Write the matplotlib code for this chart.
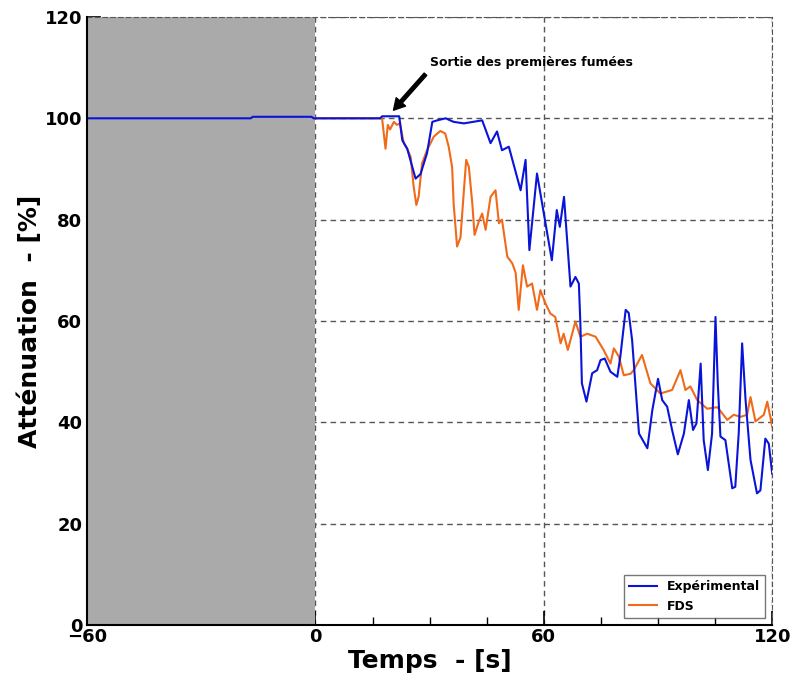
import matplotlib
matplotlib.use("Agg")
import matplotlib.pyplot as plt
from matplotlib.ticker import MultipleLocator

BLUE, ORANGE, SHADE, GRID = "#0a14d8", "#f06a1a", "#aaaaaa", "#555555"

# Expérimental
exp_t = [-60, -17, -16.5, -1, -0.5, 17, 17.5, 22, 22.8, 24.1,
         26.3, 27.6, 29.3, 30.7, 32, 34.2, 36.3, 39, 43.8, 46,
         47.7, 49, 50.8, 53.9, 55.2, 56.2, 58.2, 62.1, 63.4, 64.2,
         65.3, 67, 68.3, 69.2, 69.6, 70, 71.2, 72.7, 74, 74.9,
         76, 77.5, 79.3, 80.1, 81.5, 82.3, 83.2, 85, 87.2, 88.5,
         90, 91.1, 92.4, 93.7, 95.2, 96.8, 98.1, 99.2, 100.1, 101.2,
         102, 103.1, 104.2, 105.1, 105.7, 106.4, 107.7, 109.5, 110.3, 111.2,
         112.1, 113, 114.3, 116, 116.9, 118.2, 119.1, 120]
exp_y = [100, 100, 100.3, 100.3, 100, 100, 100.4, 100.4, 95.7, 94,
         88.1, 89, 93.1, 99.3, 99.6, 100, 99.3, 99, 99.6, 95.1,
         97.4, 93.7, 94.4, 85.8, 91.8, 74, 89.1, 72, 81.9, 78.6,
         84.5, 66.8, 68.7, 67.4, 59.5, 47.7, 44.1, 49.7, 50.3, 52.3,
         52.6, 50, 49, 53, 62.2, 61.6, 56.2, 37.8, 34.9, 42.4,
         48.6, 44.4, 43.1, 38.5, 33.7, 37.8, 44.4, 38.5, 39.8, 51.6,
         36.5, 30.6, 37.8, 60.8, 47.7, 37.2, 36.5, 27, 27.3, 37.8,
         55.6, 44.4, 32.6, 26, 26.6, 36.8, 35.8, 29.9]

# FDS
fds_t = [0, 17.5, 18.4, 19, 19.6, 20.6, 21.4, 22.2, 23.2, 24.1,
         25, 25.8, 26.5, 27.1, 28, 29.3, 31.1, 32.8, 34.1, 35,
         35.9, 36.3, 37.2, 38.1, 39, 39.6, 40.3, 41.2, 41.8, 42.9,
         43.8, 44.7, 46, 47.3, 48.2, 49, 50.4, 51.7, 52.6, 53.4,
         54.5, 55.6, 56.9, 58.2, 59.1, 60.4, 61.7, 63, 64.4, 65.2,
         66.3, 68.3, 69.6, 71.4, 73.6, 75.7, 77.5, 78.4, 79.7, 81,
         82.8, 83.6, 85.8, 88, 90.6, 93.7, 95.9, 97.2, 98.5, 100.3,
         102.9, 105.6, 108.2, 109.9, 111.7, 113.4, 114.3, 115.6, 117.8, 118.7,
         120]
fds_y = [100, 100, 94, 98.7, 97.8, 99.3, 98.7, 99, 95.1, 94,
         92.4, 86.5, 82.9, 84.5, 91.1, 93.7, 96.4, 97.5, 97, 94.4,
         90.4, 83.2, 74.7, 76.5, 85.8, 91.8, 90.4, 83.2, 77, 79.6,
         81.2, 78, 84.5, 85.8, 79.3, 80, 72.7, 71.4, 69.5, 62.2,
         71, 66.8, 67.4, 62.2, 66.1, 63.5, 61.5, 60.8, 55.6, 57.5,
         54.3, 59.9, 56.9, 57.5, 56.9, 54.3, 51.6, 54.6, 53, 49.3,
         49.6, 50.3, 53.3, 47.7, 45.7, 46.4, 50.3, 46.4, 47.1, 44.4,
         42.7, 43, 40.5, 41.5, 41.1, 41.5, 45, 40.2, 41.5, 44.1,
         39.2]

plt.rcParams.update({"font.family": "DejaVu Sans", "font.weight": "bold"})
fig = plt.figure(figsize=(7.92, 6.78), dpi=100)
ax = fig.add_axes([0.110, 0.078, 0.865, 0.897])

ax.axvspan(-60, 0, color=SHADE, lw=0, zorder=1)
ax.plot(fds_t, fds_y, color=ORANGE, lw=1.5, zorder=3, label="FDS")
ax.plot(exp_t, exp_y, color=BLUE, lw=1.5, zorder=4, label="Expérimental")

ax.set_xlim(-60, 120); ax.set_ylim(0, 120)
ax.xaxis.set_major_locator(MultipleLocator(60)); ax.xaxis.set_minor_locator(MultipleLocator(15))
ax.yaxis.set_major_locator(MultipleLocator(20)); ax.yaxis.set_minor_locator(MultipleLocator(5))
ax.tick_params(which="major", direction="in", length=10, width=1.2, labelsize=13)
ax.tick_params(axis="x", which="major", pad=2)
ax.tick_params(which="minor", direction="in", length=6, width=1)
for lbl in ax.get_xticklabels() + ax.get_yticklabels():
    lbl.set_fontweight("bold")

ax.grid(which="major", color=GRID, ls=(0, (4, 3)), lw=1, zorder=0.5)
ax.set_axisbelow(True)
for s in ("top", "right"):
    ax.spines[s].set_color(GRID); ax.spines[s].set_linestyle((0, (4, 3)))
for s in ("left", "bottom"):
    ax.spines[s].set_linewidth(1.5); ax.spines[s].set_zorder(5)

ax.set_xlabel("Temps  - [s]", fontsize=18, fontweight="bold", labelpad=2)
ax.set_ylabel("Atténuation  - [%]", fontsize=18, fontweight="bold", labelpad=2)

# smoke annotation: arrow and text placed separately
ax.annotate("", xy=(20.5, 101.6), xytext=(28.9, 108.7),
            arrowprops=dict(facecolor="black", edgecolor="black", width=2.5,
                            headwidth=9, headlength=8, shrink=0), zorder=6)
ax.text(30.2, 111.1, "Sortie des premières fumées", fontsize=9, fontweight="bold",
        va="center", ha="left", zorder=6)

h, l = ax.get_legend_handles_labels()
leg = ax.legend(h[::-1], l[::-1], loc="lower right", fancybox=False, edgecolor="#555555",
                prop={"weight": "bold", "size": 9}, borderaxespad=0.6, handlelength=2.2)
leg.get_frame().set_linewidth(1)
leg.set_zorder(7)

fig.savefig("out.png", dpi=100)
